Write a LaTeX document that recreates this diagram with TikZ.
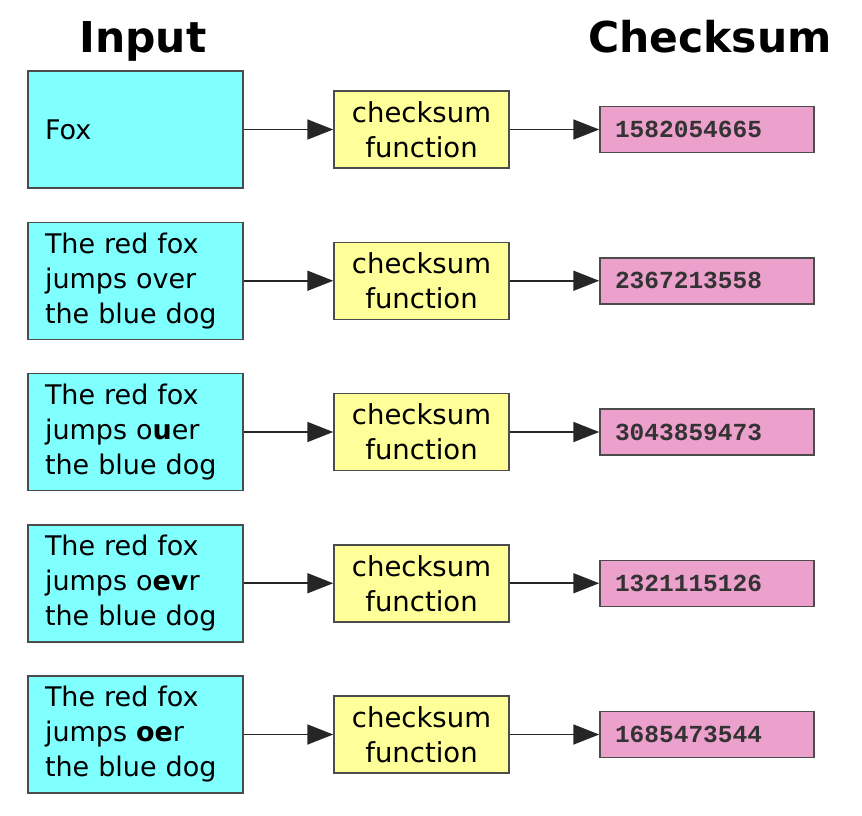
\documentclass[tikz,border=0pt]{standalone}
\usepackage{fontspec}
\setmainfont{DejaVu Sans}
\newfontfamily\digitfont{Liberation Mono}
\usetikzlibrary{positioning,arrows.meta}

\definecolor{inputcyan}{RGB}{128,255,255}
\definecolor{funcyellow}{RGB}{255,255,153}
\definecolor{sumpink}{RGB}{236,160,204}

\tikzset{
  heading/.style={anchor=base, font=\bfseries\fontsize{42.5}{50}\selectfont},
  inbox/.style={draw=black!70, line width=1.5pt, fill=inputcyan,
    minimum width=215pt, minimum height=117pt, text width=181pt,
    inner xsep=17pt, align=left, font=\fontsize{27}{35}\selectfont},
  fnbox/.style={draw=black!70, line width=1.5pt, fill=funcyellow,
    minimum width=175pt, minimum height=77pt, align=center,
    font=\fontsize{27.5}{35}\selectfont},
  sumbox/.style={draw=black!70, line width=1.5pt, fill=sumpink,
    minimum width=214pt, minimum height=46pt, text width=184pt,
    inner xsep=15pt, align=left, text=black!80,
    font=\digitfont\bfseries\fontsize{24.5}{30}\selectfont},
  flow/.style={draw=black!85, line width=1.8pt,
    -{Triangle[length=26pt,width=20pt]}}
}

\begin{document}
\begin{tikzpicture}[x=1pt,y=-1pt]
  \useasboundingbox (0,0) rectangle (862,816);

  % Headings
  \node[heading] (inhead) at (143,53) {Input};
  \node[heading] (sumhead) at (710,53) {Checksum};

  % Inputs
  \node[inbox] (in1) at (135.5,129.5) {Fox};
  \node[inbox, below=32.75pt of in1] (in2) {The red fox\\jumps over\\the blue dog};
  \node[inbox, below=32.75pt of in2] (in3) {The red fox\\jumps o\textbf{u}er\\the blue dog};
  \node[inbox, below=32.75pt of in3] (in4) {The red fox\\jumps o\textbf{ev}r\\the blue dog};
  \node[inbox, below=32.75pt of in4] (in5) {The red fox\\jumps \textbf{oe}r\\the blue dog};

  % Checksum functions
  \node[fnbox, right=89.5pt of in1] (fn1) {checksum\\function};
  \node[fnbox, right=89.5pt of in2] (fn2) {checksum\\function};
  \node[fnbox, right=89.5pt of in3] (fn3) {checksum\\function};
  \node[fnbox, right=89.5pt of in4] (fn4) {checksum\\function};
  \node[fnbox, right=89.5pt of in5] (fn5) {checksum\\function};

  % Checksums
  \node[sumbox, right=89.5pt of fn1] (sum1) {1582054665};
  \node[sumbox, right=89.5pt of fn2] (sum2) {2367213558};
  \node[sumbox, right=89.5pt of fn3] (sum3) {3043859473};
  \node[sumbox, right=89.5pt of fn4] (sum4) {1321115126};
  \node[sumbox, right=89.5pt of fn5] (sum5) {1685473544};

  % Arrows
  \draw[flow] (in1) -- (fn1);
  \draw[flow] (in2) -- (fn2);
  \draw[flow] (in3) -- (fn3);
  \draw[flow] (in4) -- (fn4);
  \draw[flow] (in5) -- (fn5);
  \draw[flow] (fn1) -- (sum1);
  \draw[flow] (fn2) -- (sum2);
  \draw[flow] (fn3) -- (sum3);
  \draw[flow] (fn4) -- (sum4);
  \draw[flow] (fn5) -- (sum5);
\end{tikzpicture}
\end{document}
